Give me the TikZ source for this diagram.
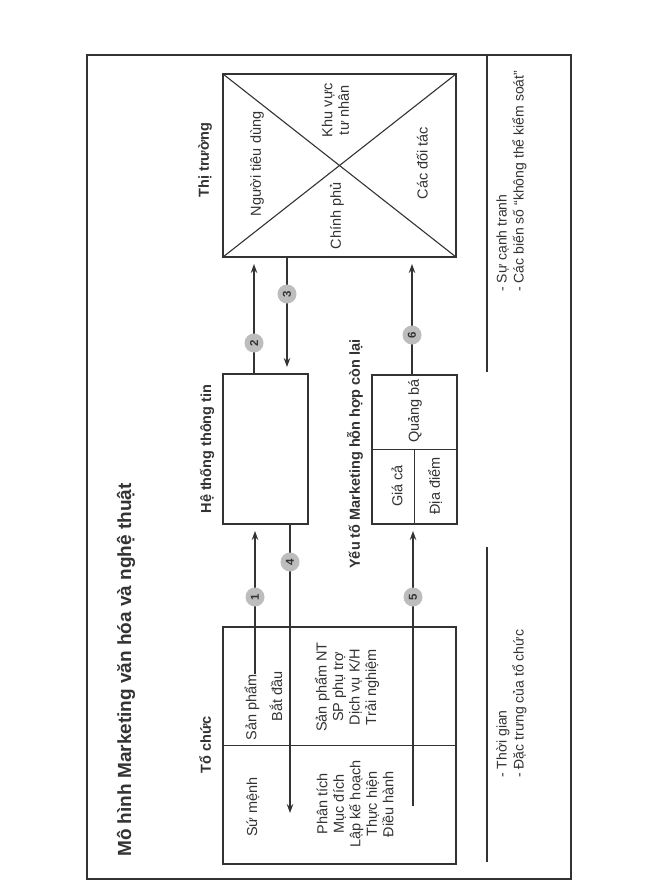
\documentclass[tikz,border=0pt]{standalone}
\usepackage{fontspec}
\setmainfont{Liberation Sans}
\usetikzlibrary{arrows.meta,backgrounds}
\definecolor{ink}{HTML}{333333}
\definecolor{numfill}{HTML}{BDBDBD}
\begin{document}
\begin{tikzpicture}[x=1pt,y=-1pt,
  box/.style={draw=ink, line width=1.1pt, inner sep=0pt, outer sep=0pt},
  ln/.style={draw=ink, line width=1.1pt},
  txt/.style={rotate=90, text=ink, inner sep=0pt, font=\fontsize{14.5}{16.5}\selectfont},
  lbl/.style={rotate=90, text=ink, inner sep=0pt, font=\bfseries\fontsize{14.5}{16.5}\selectfont},
  ttl/.style={rotate=90, text=ink, inner sep=0pt, font=\bfseries\fontsize{19}{22}\selectfont},
  note/.style={rotate=90, text=ink, inner sep=0pt, align=left, font=\fontsize{14}{17}\selectfont},
  num/.style={circle, fill=numfill, minimum size=19pt, inner sep=0pt, rotate=90, text=ink, font=\bfseries\fontsize{11.5}{11.5}\selectfont},
  arr/.style={draw=ink, line width=1.1pt, -{Stealth[length=9pt,width=6.5pt]}, shorten >=7pt},
  sep/.style={draw=ink, line width=2.2pt}]
\useasboundingbox (0,0) rectangle (659,886);

% frame
\node[draw=ink, line width=1.4pt, minimum width=484pt, minimum height=824pt, inner sep=0pt] (frame) at (329,467) {};

% boxes
\node[box, minimum width=233pt, minimum height=237pt] (tc) at (339.5,745.5) {};
\node[box, minimum width=85pt, minimum height=150pt] (httt) at (265.5,449) {};
\node[box, minimum width=85pt, minimum height=149pt] (yt) at (414.5,449.5) {};
\node[box, minimum width=233pt, minimum height=183pt] (tt) at (339.5,165.5) {};

\draw[ln] (tt.north west) -- (tt.south east);
\draw[ln] (tt.north east) -- (tt.south west);
\draw[ln] (tc.west) -- (tc.east);
\draw[ln] (yt.west) -- (yt.east);
\draw[ln] (yt.center) -- (yt.south);

% title and labels
\node[ttl, anchor=west] (title) at (126,857) {Mô hình Marketing văn hóa và nghệ thuật};
\node[lbl] (ltc) at (205,745) {Tổ chức};
\node[lbl] (lhttt) at (207,449) {Hệ thống thông tin};
\node[lbl] (ltt) at (205,160) {Thị trường};
\node[lbl] (lyt) at (355,454) {Yếu tố Marketing hỗn hợp còn lại};

% organisation contents
\node[txt] (sp) at (252,707) {Sản phẩm};
\node[txt] (bd) at (276,696) {Bắt đầu};
\node[txt, align=center] (spnt) at (347,687) {Sản phẩm NT\\SP phụ trợ\\Dịch vụ K/H\\Trải nghiệm};
\node[txt] (sm) at (253,807) {Sứ mệnh};
\node[txt, align=center] (pt) at (355,804) {Phân tích\\Mục đích\\Lập kế hoạch\\Thực hiện\\Điều hành};

% market contents
\node[txt] (ntd) at (257,164) {Người tiêu dùng};
\node[txt, align=center] (kv) at (335.5,110) {Khu vực\\tư nhân};
\node[txt] (cp) at (337,216) {Chính phủ};
\node[txt] (cdt) at (422,163) {Các đối tác};

% mix contents
\node[txt] (qb) at (415,411) {Quảng bá};
\node[txt] (gc) at (397,486) {Giá cả};
\node[txt] (dd) at (435,486) {Địa điểm};

% number circles
\node[num] (n1) at (255,597) {1};
\node[num] (n2) at (254,343) {2};
\node[num] (n3) at (287,294) {3};
\node[num] (n4) at (290,562) {4};
\node[num] (n5) at (413,597) {5};
\node[num] (n6) at (412,335) {6};

\coordinate (e4) at (290,813);
\coordinate (s5) at (413,806);
\coordinate (r1a) at (487,55);
\coordinate (r1b) at (487,372);
\coordinate (r2a) at (487,547);
\coordinate (r2b) at (487,862);

\begin{pgfonlayer}{background}
\fill[white] (0,0) rectangle (659,886);
\draw[arr] (n1 |- sp.east) -- (n1 |- httt.south);
\draw[arr] (n2 |- httt.north) -- (n2 |- tt.south);
\draw[arr] (n3 |- tt.south) -- (n3 |- httt.north);
\draw[arr, shorten >=0pt] (n4 |- httt.south) -- (e4);
\draw[arr] (s5) -- (n5 |- yt.south);
\draw[arr] (n6 |- yt.north) -- (n6 |- tt.south);
\end{pgfonlayer}

% side notes
\draw[sep] (r1a) -- (r1b);
\draw[sep] (r2a) -- (r2b);
\node[note, anchor=west] (c1) at (511.5,292) {- Sự cạnh tranh\\- Các biến số “không thể kiểm soát”};
\node[note, anchor=west] (c2) at (511.5,778) {- Thời gian\\- Đặc trưng của tổ chức};
\end{tikzpicture}
\end{document}
